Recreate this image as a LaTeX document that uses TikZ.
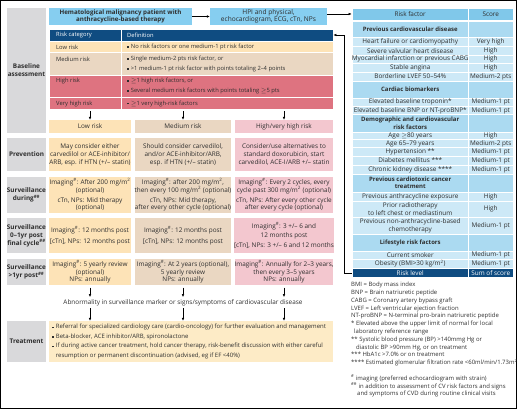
\documentclass[tikz,border=0pt]{standalone}
\usepackage{fontspec}
\setmainfont{Open Sans}
\usetikzlibrary{arrows.meta}
\definecolor{grayc}{HTML}{D9D9DB}
\definecolor{skyc}{HTML}{86CEF0}
\definecolor{navyc}{HTML}{0F4C81}
\definecolor{lowc}{HTML}{FDE3B7}
\definecolor{medc}{HTML}{EAD7C2}
\definecolor{hirow}{HTML}{DE7380}
\definecolor{hic}{HTML}{F3C7CF}
\definecolor{treatc}{HTML}{FDEBC6}
\definecolor{rheadc}{HTML}{80C8EA}
\definecolor{rsecc}{HTML}{ABDAF1}
\definecolor{rrowc}{HTML}{CDE9F7}
\definecolor{txt}{HTML}{2E2E2E}
\newcommand\fs{\fontsize{6.4}{7.9}\selectfont}
\newcommand\fst{\fontsize{5.8}{7.6}\selectfont}
\newcommand\bul{\raisebox{0.7pt}{\rule{1.4pt}{1.4pt}}\hspace{2.3pt}}
\newcommand\bx[7]{\node[#6, minimum width={(#4-(#2))*1pt}, minimum height={(#5-(#3))*1pt}] (#1) at ({(#2+#4)/2},{(#3+#5)/2}) {#7};}
\newcommand\rrow[6]{%
 \node[#4, minimum width=116.5pt, minimum height={(#3-(#2))*1pt}] (#1a) at (410.25,{(#2+#3)/2}) {#5};
 \node[#4, minimum width=44.5pt, minimum height={(#3-(#2))*1pt}] (#1b) at (490.75,{(#2+#3)/2}) {#6};}
\newcommand\im{Imaging\textsuperscript{\#}}
\begin{document}
\begin{tikzpicture}[x=1pt,y=-1pt,
  every node/.style={font=\fs, text=txt, inner sep=0pt, align=center},
  gl/.style={fill=grayc, font=\fs\bfseries},
  sky/.style={fill=skyc},
  hdr/.style={fill=navyc, draw=white, line width=0.7pt},
  lowrow/.style={fill=lowc, draw=white, line width=0.7pt},
  medrow/.style={fill=medc, draw=white, line width=0.7pt},
  hirowst/.style={fill=hirow, draw=white, line width=0.7pt},
  lowf/.style={fill=lowc},
  medf/.style={fill=medc},
  hif/.style={fill=hic},
  treatf/.style={fill=treatc},
  rh/.style={fill=rheadc, draw=white, line width=0.7pt},
  rs/.style={fill=rsecc, draw=white, line width=0.7pt, font=\fontsize{6.0}{7.3}\selectfont\bfseries},
  rr/.style={fill=rrowc, draw=white, line width=0.7pt},
  rn/.style={fill=navyc, draw=white, line width=0.7pt, text=white},
  lt/.style={anchor=west, align=left, font=\fst},
  arr/.style={-{Latex[length=3pt,width=2.6pt]}, line width=0.5pt, black}]
\useasboundingbox (0,0) rectangle (520,412);
\draw[line width=0.8pt] (0.5,0.5) rectangle (516,408);
% gray labels
\bx{gBase}{7}{8}{46}{133}{gl}{Baseline\\assessment}
\bx{gPrev}{7}{138}{46}{171}{gl}{Prevention}
\bx{gDur}{7}{177}{46}{213}{gl}{Surveillance\\during\textsuperscript{\#\#}}
\bx{gPost}{7}{218}{46}{253}{gl}{Surveillance\\0–1yr post\\final cycle\textsuperscript{\#\#}}
\bx{gLong}{7}{259}{46}{285}{gl}{Surveillance\\>1yr post\textsuperscript{\#\#}}
\bx{gTreat}{7}{321}{46}{362}{gl}{Treatment}
% top boxes
\bx{hema}{49}{8}{192}{25}{sky,font=\fontsize{6.2}{7.2}\selectfont\bfseries}{Hematological malignancy patient with\\anthracycline-based therapy}
\bx{hpi}{210}{8}{327}{25}{sky,font=\fontsize{6.6}{7.4}\selectfont}{HPI and physical,\\echocardiogram, ECG, cTn, NPs}
% risk table
\bx{catH}{49}{29}{121.5}{41}{hdr}{}
\bx{defH}{121.5}{29}{333}{41}{hdr}{}
\bx{catL}{49}{41}{121.5}{52.5}{lowrow}{}
\bx{defL}{121.5}{41}{333}{52.5}{lowrow}{}
\bx{catM}{49}{52.5}{121.5}{75.5}{medrow}{}
\bx{defM}{121.5}{52.5}{333}{75.5}{medrow}{}
\bx{catH2}{49}{75.5}{121.5}{97.5}{hirowst}{}
\bx{defH2}{121.5}{75.5}{333}{97.5}{hirowst}{}
\bx{catV}{49}{97.5}{121.5}{109.5}{hirowst}{}
\bx{defV}{121.5}{97.5}{333}{109.5}{hirowst}{}
\node[lt, text=white] (tcatH) at (56,35) {Risk category};
\node[lt, text=white] (tdefH) at (127,35) {Definition};
\node[lt] (tcatL) at (56,47) {Low risk};
\node[lt] (tdefL) at (127,47) {\bul No risk factors or one medium-1 pt risk factor};
\node[lt] (tcatM) at (56,59) {Medium risk};
\node[lt] (tdefM) at (127,64) {\bul Single medium-2 pts risk factor, or\\[2.4pt]\bul >1 medium-1 pt risk factor with points totaling 2–4 points};
\node[lt] (tcatH2) at (56,81) {High risk};
\node[lt] (tdefH2) at (127,86) {\bul \ensuremath{\geq}1 high risk factors, or\\[2.4pt]\bul Several medium risk factors with points totaling \ensuremath{\geq}5 pts};
\node[lt] (tcatV) at (56,103.5) {Very high risk};
\node[lt] (tdefV) at (127,103.5) {\bul \ensuremath{\geq}1 very high-risk factors};
% level boxes
\bx{lvL}{49}{120}{131}{133}{lowf}{Low risk}
\bx{lvM}{135}{120}{231}{133}{medf}{Medium risk}
\bx{lvH}{235}{120}{333}{133}{hif}{High/very high risk}
% prevention
\bx{pvL}{49}{138}{131}{171}{lowf}{May consider either\\carvedilol or ACE-inhibitor/\\ARB, esp. if HTN (+/– statin)}
\bx{pvM}{135}{138}{231}{171}{medf}{Should consider carvedilol,\\and/or ACE-inhibitor/ARB,\\esp. if HTN (+/– statin)}
\bx{pvH}{235}{138}{333}{171}{hif}{Consider/use alternatives to\\standard doxorubicin, start\\carvedilol, ACE-I/ARB +/– statin}
% during
\bx{duL}{49}{177}{131}{213}{lowf}{\im: After 200 mg/m\textsuperscript{2}\\(optional)\\[2pt]cTn, NPs: Mid therapy\\(optional)}
\bx{duM}{135}{177}{231}{213}{medf}{\im: after 200 mg/m\textsuperscript{2},\\then every 100 mg/m\textsuperscript{2} (optional)\\[2pt]cTn, NPs: Mid therapy,\\after every other cycle (optional)}
\bx{duH}{235}{177}{333}{213}{hif}{\im: Every 2 cycles, every\\cycle past 300 mg/m\textsuperscript{2} (optional)\\[2pt]cTn, NPs: After every other cycle\\after every cycle (optional)}
% 0-1 yr
\bx{poL}{49}{218}{131}{253}{lowf}{\im: 12 months post\\[3pt][cTn], NPs: 12 months post}
\bx{poM}{135}{218}{231}{253}{medf}{\im: 12 months post\\[3pt][cTn], NPs: 12 months post}
\bx{poH}{235}{218}{333}{253}{hif}{\im: 3 +/– 6 and\\[1pt]12 months post\\[2pt][cTn], NPs: 3 +/– 6 and 12 months}
% >1 yr
\bx{loL}{49}{259}{131}{285}{lowf}{\im: 5 yearly review\\(optional)\\NPs: annually}
\bx{loM}{135}{259}{231}{285}{medf}{\im: At 2 years (optional),\\5 yearly review\\NPs: annually}
\bx{loH}{235}{259}{333}{285}{hif}{\im: Annually for 2–3 years,\\then every 3–5 years\\NPs: annually}
% abnormality
\node (abn) at (183,302.5) {Abnormality in surveillance marker or signs/symptoms of cardiovascular disease};
% treatment
\bx{treat}{49}{321}{333}{362}{treatf}{}
\node[lt, font=\fontsize{6.0}{7.3}\selectfont] (ttreat) at (52,341.5) {\bul Referral for specialized cardiology care (cardio-oncology) for further evaluation and management\\[2.2pt]\bul Beta-blocker, ACE inhibitor/ARB, spironolactone\\[2.2pt]\bul If during active cancer treatment, hold cancer therapy, risk-benefit discussion with either careful\\[2.2pt]\hspace*{3.7pt}resumption or permanent discontinuation (advised, eg if EF <40\%)};
% right table
\rrow{rh}{8}{20}{rh}{Risk factor}{Score}
\rrow{s1}{21}{37.5}{rs}{Previous cardiovascular disease}{}
\rrow{r1}{37.5}{46.5}{rr}{Heart failure or cardiomyopathy}{Very high}
\rrow{r2}{46.5}{55}{rr}{Severe valvular heart disease}{High}
\rrow{r3}{55}{63.5}{rr}{Myocardial infarction or previous CABG}{High}
\rrow{r4}{63.5}{72}{rr}{Stable angina}{High}
\rrow{r5}{72}{81}{rr}{Borderline LVEF 50–54\%}{Medium-2 pts}
\rrow{s2}{81}{98}{rs}{Cardiac biomarkers}{}
\rrow{r6}{98}{106.5}{rr}{Elevated baseline troponin*}{Medium-1 pt}
\rrow{r7}{106.5}{114.5}{rr}{Elevated baseline BNP or NT-proBNP*}{Medium-1 pt}
\rrow{s3}{114.5}{132}{rs}{Demographic and cardiovascular\\risk factors}{}
\rrow{r8}{132}{139.5}{rr}{Age \ensuremath{\geq}80 years}{High}
\rrow{r9}{139.5}{147.5}{rr}{Age 65–79 years}{Medium-2 pts}
\rrow{r10}{147.5}{156}{rr}{Hypertension **}{Medium-1 pt}
\rrow{r11}{156}{165}{rr}{Diabetes mellitus ***}{Medium-1 pt}
\rrow{r12}{165}{174}{rr}{Chronic kidney disease ****}{Medium-1 pt}
\rrow{s4}{174}{192}{rs}{Previous cardiotoxic cancer\\treatment}{}
\rrow{r13}{192}{201}{rr}{Previous anthracycline exposure}{High}
\rrow{r14}{201}{217}{rr}{Prior radiotherapy\\to left chest or mediastinum}{High}
\rrow{r15}{217}{234}{rr}{Previous non-anthracycline-based\\chemotherapy}{Medium-1 pt}
\rrow{s5}{234}{251}{rs}{Lifestyle risk factors}{}
\rrow{r16}{251}{259.5}{rr}{Current smoker}{Medium-1 pt}
\rrow{r17}{259.5}{268}{rr}{Obesity (BMI>30 kg/m\textsuperscript{2})}{Medium-1 pt}
\rrow{rl}{268}{277.5}{rn}{Risk level}{Sum of score}
% legend
\node[anchor=north west, align=left, font=\fontsize{5.95}{7.8}\selectfont] (legend) at (351,282) {BMI = Body mass index\\
BNP = Brain natriuretic peptide\\
CABG = Coronary artery bypass graft\\
LVEF = Left ventricular ejection fraction\\
NT-proBNP = N-terminal pro-brain natriuretic peptide\\
* Elevated above the upper limit of normal for local\\
\hspace*{3pt}laboratory reference range\\
** Systolic blood pressure (BP) >140mmg Hg or\\
\hspace*{5pt}diastolic BP >90mm Hg, or on treatment\\
*** HbA1c >7.0\% or on treatment\\
**** Estimated glomerular filtration rate <60ml/min/1.73m\textsuperscript{2}\\[7.8pt]
\textsuperscript{\#} imaging (preferred echocardiogram with strain)\\
\textsuperscript{\#\#} in addition to assessment of CV risk factors and signs\\
\hspace*{6pt}and symptoms of CVD during routine clinical visits};
% connectors
\draw[arr] (hema.east) -- (hpi.west);
\draw[arr] (hpi.east |- rha.west) -- (rha.west);
\draw[arr] (rla.west) -- ++(-7pt,0) |- (defH.east);
\foreach \t/\b in {lvL/lvL, lvM/lvM, lvH/lvH} {
  \draw[arr] ([yshift=-1.5pt]defV.south -| \t.north) -- (\b.north);
}
\foreach \s in {loL, loM, loH} {
  \draw[arr] ([yshift=-2.5pt]\s.south) -- ([yshift=2pt]\s.south |- abn.north);
  \draw[arr] ([yshift=-2.5pt]\s.south |- abn.south) -- (\s.south |- treat.north);
}
\end{tikzpicture}
\end{document}
